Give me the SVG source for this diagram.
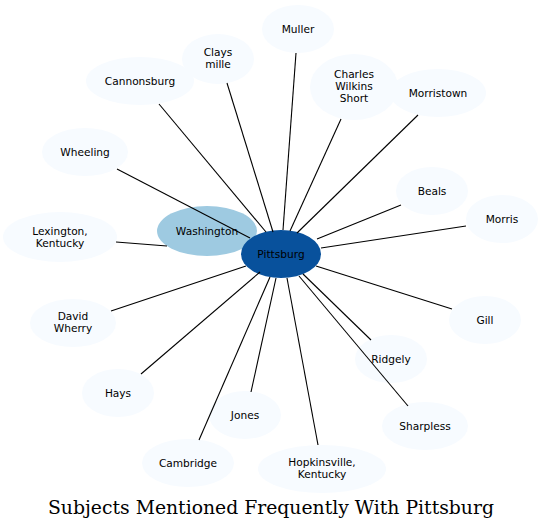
<svg xmlns="http://www.w3.org/2000/svg" width="543" height="530" viewBox="0 0 543 530">
<style>
.n ellipse{fill:#f7fbff;stroke:none}
.n text,.c text{font-family:"DejaVu Sans",sans-serif;font-size:10.6px;fill:#000;text-anchor:middle}
.e line{stroke:#000;stroke-width:1.1}
.t{font-family:"DejaVu Serif","Liberation Serif",serif;font-size:18px;text-anchor:middle;fill:#000}
</style>
<rect width="543" height="530" fill="#fff"/>
<g id="washington" class="c"><ellipse cx="207" cy="231" rx="50" ry="25" fill="#9ecae1"/><text x="207" y="235">Washington</text></g>
<g id="pittsburg" class="c"><ellipse cx="281" cy="254" rx="40" ry="24" fill="#08519c"/><text x="281" y="258">Pittsburg</text></g>
<g id="muller" class="n"><ellipse cx="298" cy="29" rx="36" ry="24"/><text x="298" y="33">Muller</text></g>
<g id="claysmille" class="n"><ellipse cx="218" cy="59" rx="36" ry="25"/><text x="218" y="56">Clays</text><text x="218" y="68">mille</text></g>
<g id="cannonsburg" class="n"><ellipse cx="140" cy="81" rx="54" ry="24"/><text x="140" y="85">Cannonsburg</text></g>
<g id="charles" class="n"><ellipse cx="354" cy="87" rx="44" ry="33"/><text x="354" y="78">Charles</text><text x="354" y="90">Wilkins</text><text x="354" y="102">Short</text></g>
<g id="morristown" class="n"><ellipse cx="438" cy="93" rx="48" ry="24"/><text x="438" y="97">Morristown</text></g>
<g id="wheeling" class="n"><ellipse cx="85" cy="152" rx="43" ry="24"/><text x="85" y="156">Wheeling</text></g>
<g id="lexington" class="n"><ellipse cx="60" cy="237" rx="57" ry="25"/><text x="60" y="235">Lexington,</text><text x="60" y="247">Kentucky</text></g>
<g id="beals" class="n"><ellipse cx="432" cy="191" rx="36" ry="24"/><text x="432" y="195">Beals</text></g>
<g id="morris" class="n"><ellipse cx="502" cy="219" rx="36" ry="24"/><text x="502" y="223">Morris</text></g>
<g id="gill" class="n"><ellipse cx="485" cy="320" rx="36" ry="24"/><text x="485" y="324">Gill</text></g>
<g id="ridgely" class="n"><ellipse cx="391" cy="359" rx="36" ry="24"/><text x="391" y="363">Ridgely</text></g>
<g id="davidwherry" class="n"><ellipse cx="73" cy="323" rx="43" ry="24"/><text x="73" y="320">David</text><text x="73" y="332">Wherry</text></g>
<g id="hays" class="n"><ellipse cx="118" cy="393" rx="36" ry="24"/><text x="118" y="397">Hays</text></g>
<g id="jones" class="n"><ellipse cx="245" cy="415" rx="36" ry="24"/><text x="245" y="419">Jones</text></g>
<g id="cambridge" class="n"><ellipse cx="188" cy="463" rx="46" ry="24"/><text x="188" y="467">Cambridge</text></g>
<g id="hopkinsville" class="n"><ellipse cx="322" cy="469" rx="64" ry="24"/><text x="322" y="466">Hopkinsville,</text><text x="322" y="478">Kentucky</text></g>
<g id="sharpless" class="n"><ellipse cx="425" cy="426" rx="43" ry="24"/><text x="425" y="430">Sharpless</text></g>
<g id="edges" class="e">
<line x1="283" y1="230" x2="296" y2="53"/>
<line x1="273" y1="232" x2="227" y2="83"/>
<line x1="266" y1="232" x2="159" y2="104"/>
<line x1="290" y1="231" x2="341" y2="119"/>
<line x1="297" y1="233" x2="418" y2="115"/>
<line x1="250" y1="238" x2="117" y2="169"/>
<line x1="167" y1="246" x2="116" y2="242"/>
<line x1="317" y1="239" x2="401" y2="205"/>
<line x1="321" y1="248" x2="466" y2="226"/>
<line x1="316" y1="266" x2="452" y2="309"/>
<line x1="303" y1="274" x2="371" y2="340"/>
<line x1="299" y1="276" x2="408" y2="406"/>
<line x1="287" y1="278" x2="318" y2="445"/>
<line x1="276" y1="278" x2="251" y2="392"/>
<line x1="270" y1="277" x2="199" y2="440"/>
<line x1="260" y1="272" x2="141" y2="374"/>
<line x1="246" y1="266" x2="111" y2="311"/>
</g>
<text class="t" x="271" y="514" textLength="446" lengthAdjust="spacingAndGlyphs">Subjects Mentioned Frequently With Pittsburg</text>
</svg>
